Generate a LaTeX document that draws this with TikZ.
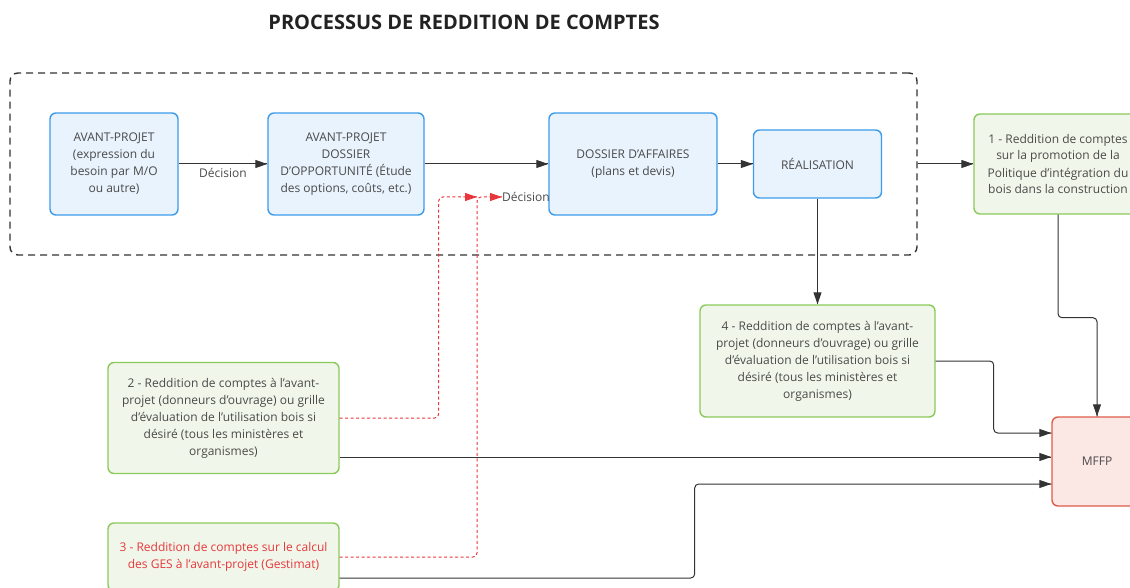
\documentclass[tikz,border=0pt]{standalone}
\usepackage{fontspec}
\setmainfont{Open Sans}
\usetikzlibrary{arrows.meta,decorations.markings}
\definecolor{bleuBord}{HTML}{3D9BE9}
\definecolor{bleuFond}{HTML}{E8F3FD}
\definecolor{vertBord}{HTML}{8BC95A}
\definecolor{vertFond}{HTML}{F0F7EA}
\definecolor{rougeBord}{HTML}{DE5B4B}
\definecolor{rougeFond}{HTML}{FBE7E4}
\definecolor{rougeTrait}{HTML}{E8363C}
\definecolor{texte}{HTML}{4A4A4A}
\definecolor{trait}{HTML}{333333}
\definecolor{titre}{HTML}{222222}

\begin{document}
\begin{tikzpicture}[x=1pt, y=-1pt, auto, font=\fontsize{12}{17}\selectfont,
  boite/.style={draw, rounded corners=6pt, line width=1.4pt, align=center, text=texte, inner sep=0pt},
  etape/.style={boite, draw=bleuBord, fill=bleuFond},
  compte/.style={boite, draw=vertBord, fill=vertFond},
  ministere/.style={boite, draw=rougeBord, fill=rougeFond},
  fleche/.style={draw=trait, line width=1pt, rounded corners=4pt, decoration={markings,mark=at position 1 with {\arrow{Triangle[length=12pt,width=8pt]}}}, postaction={decorate}},
  pointille/.style={fleche, draw=rougeTrait, dash pattern=on 3pt off 2.5pt}]
\useasboundingbox (0,0) rectangle (1130,588);
\clip (0,0) rectangle (1130,588);
\node[font=\fontsize{20}{24}\selectfont\bfseries, text=titre] (titre) at (464,22) {PROCESSUS DE REDDITION DE COMPTES};
\node[draw=trait, line width=1.4pt, dash pattern=on 7pt off 5pt, rounded corners=8pt, minimum width=907pt, minimum height=182pt] (cadre) at (463.5,164) {};
\node[etape, minimum width=128pt, minimum height=102pt] (ap) at (114,164) {AVANT-PROJET\\(expression du\\besoin par M/O\\ou autre)};
\node[etape, minimum width=156pt, minimum height=102pt] (opp) at (346,164) {AVANT-PROJET\\DOSSIER\\D'OPPORTUNITÉ (Étude\\des options, coûts, etc.)};
\node[etape, minimum width=168pt, minimum height=102pt] (aff) at (633,164) {DOSSIER D'AFFAIRES\\(plans et devis)};
\node[etape, minimum width=128pt, minimum height=68pt] (real) at (817.5,164) {RÉALISATION};
\node[compte, minimum width=168pt, minimum height=100pt] (r1) at (1058,164) {1 - Reddition de comptes\\sur la promotion de la\\Politique d'intégration du\\bois dans la construction};
\node[compte, minimum width=235pt, minimum height=112pt] (r4) at (817.5,361) {4 - Reddition de comptes à l'avant-\\projet (donneurs d'ouvrage) ou grille\\d'évaluation de l'utilisation bois si\\désiré (tous les ministères et\\organismes)};
\node[compte, minimum width=231pt, minimum height=111pt] (r2) at (223.5,418) {2 - Reddition de comptes à l'avant-\\projet (donneurs d'ouvrage) ou grille\\d'évaluation de l'utilisation bois si\\désiré (tous les ministères et\\organismes)};
\node[compte, minimum width=231pt, minimum height=68pt, text=rougeTrait] (r3) at (223.5,557) {3 - Reddition de comptes sur le calcul\\des GES à l'avant-projet (Gestimat)};
\node[ministere, minimum width=90pt, minimum height=89pt] (mffp) at (1097,461.5) {MFFP};
\node[text=texte, inner sep=0pt, anchor=west] (decC) at (502,197) {Décision};
\coordinate (jonction) at (477,197);
\coordinate (s2) at ([yshift=-39pt]r2.east);
\coordinate (s3) at ([yshift=-21pt]r3.east);
\draw[fleche] (ap) to node[swap, text=texte] {Décision} (opp);
\draw[fleche] (opp) -- (aff);
\draw[fleche] (aff) -- (real);
\draw[fleche] (cadre) -- (r1);
\draw[fleche] (real) -- (r4);
\draw[fleche] (r1.south) -- ++(0,103) -| (mffp.north);
\draw[fleche] (r4.east) -- ++(58,0) |- ([yshift=28.5pt]mffp.west);
\draw[fleche] (s2) -- (s2 -| mffp.west);
\draw[fleche] (s3) -- ++(355,0) |- ([yshift=-22.5pt]mffp.west);
\draw[pointille] (r2.east) -- ++(99,0) |- (jonction);
\draw[pointille] (r3.east) -| (jonction) -- (decC.west);
\end{tikzpicture}
\end{document}
